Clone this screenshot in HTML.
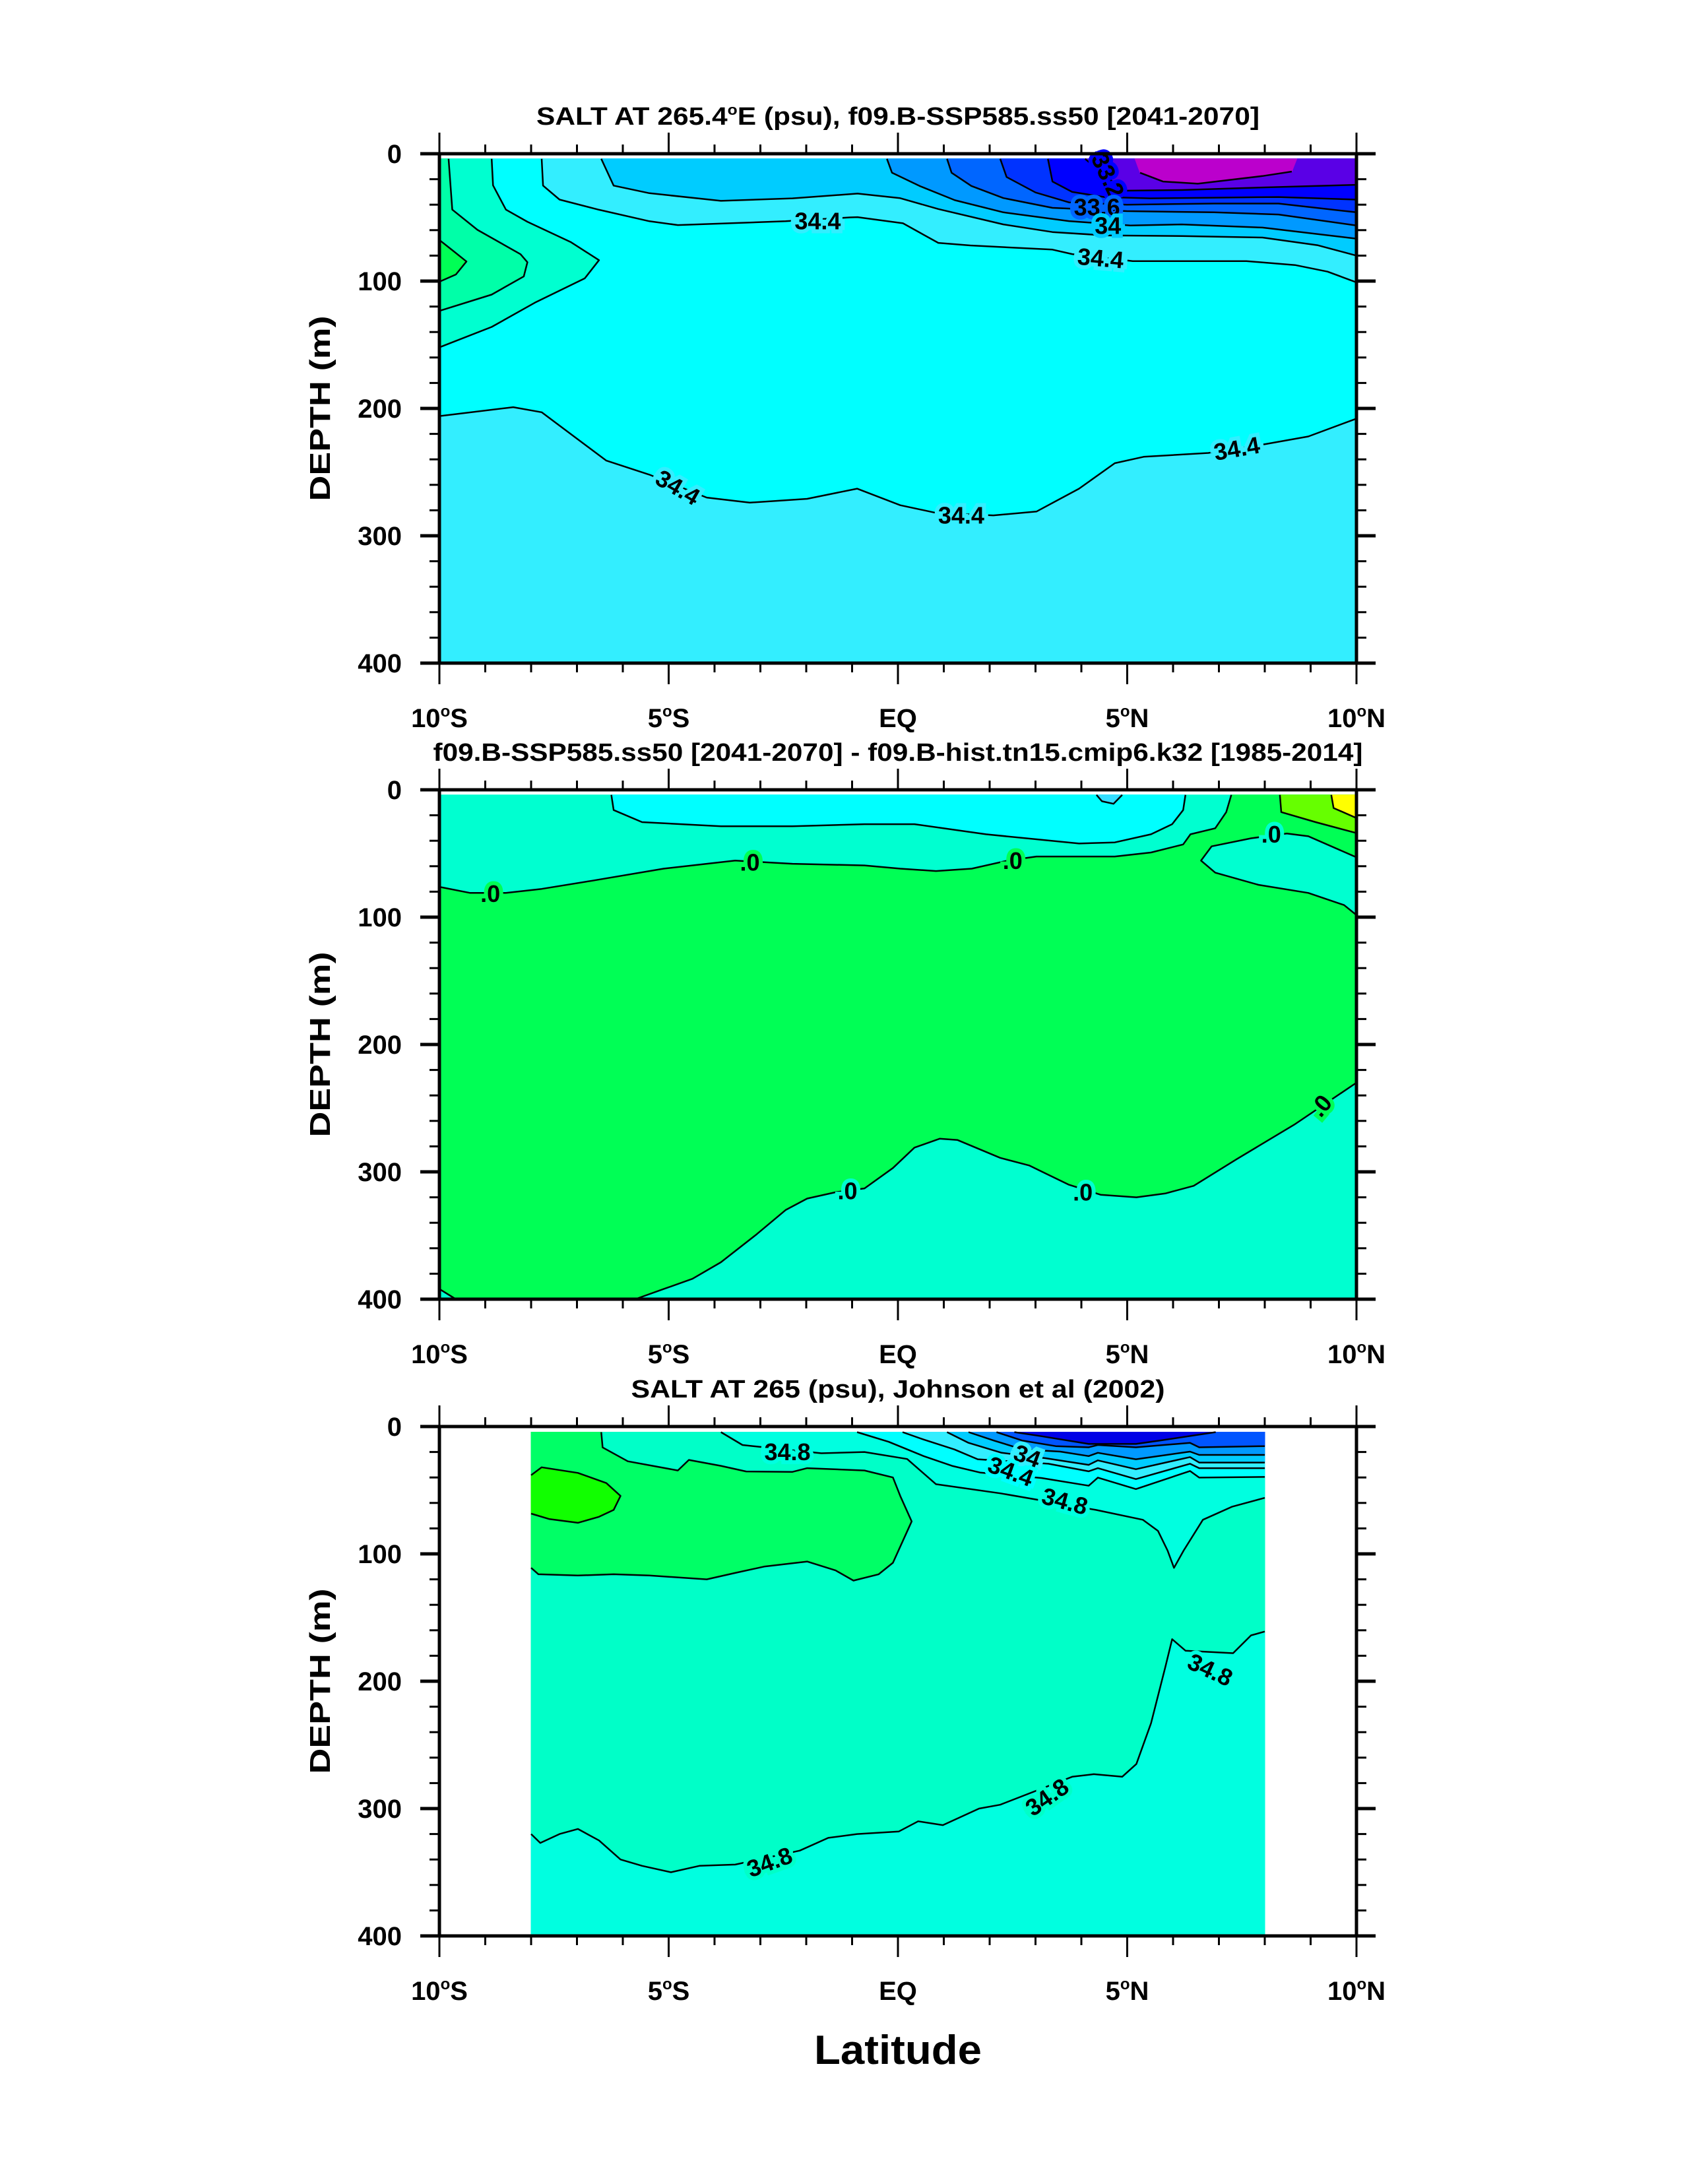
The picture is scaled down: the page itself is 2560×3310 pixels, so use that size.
<!DOCTYPE html>
<html>
<head>
<meta charset="utf-8">
<style>
html,body{margin:0;padding:0;background:#fff;}
svg{display:block;font-family:"Liberation Sans",Arial,sans-serif;}
</style>
</head>
<body>
<svg id="chart" xmlns="http://www.w3.org/2000/svg" width="2560" height="3310" viewBox="0 0 2560 3310">
<rect x="0" y="0" width="2560" height="3310" fill="#fff"/>
</svg>
<script>
// ---------- Panel 1 data (lat, depth m) ----------
const p1_low344_lat=[-10,-8.39,-7.77,-6.36,-5.42,-4.17,-3.23,-1.98,-0.89,0.05,0.83,2.08,3.02,3.95,4.73,5.36,6.77,8.02,8.95,10];
const p1_low344_dep=[206,199,203,241,252,270,274,271,263,276,282,284,281,263,243,238,235,228,222,208];
const p1_band1_lat=[-8.86,-8.83,-8.55,-8.08,-7.14,-6.52,-6.83,-7.92,-8.86,-10];
const p1_band1_dep=[4,24.8,43.9,53.4,69.3,83.6,97.9,117,136,152];
const p1_band2_lat=[-9.8,-9.72,-9.17,-8.23,-8.08,-8.16,-8.86,-10];
const p1_band2_dep=[4,43.9,59.8,78.9,85.2,96.3,110.6,123.4];
const p1_core_lat=[-10,-9.72,-9.41,-9.64,-10];
const p1_core_dep=[67.7,75.7,84.6,94.8,100.5];
const p1_up344_lat=[-7.77,-7.74,-7.38,-6.52,-5.42,-4.8,-2.45,-1.05,-0.88,0.11,0.88,1.58,3.37,3.8,5.12,7.6,8.66,9.37,10];
const p1_up344_dep=[4,25,36,44,53,56,53,50,49.8,54.6,70,72,75.3,78.8,84.3,84.3,87.4,92.6,101];
const p1_ca_lat=[-6.47,-6.2,-5.42,-3.86,-2.3,-0.88,0.04,0.88,2.3,3.37,4.5,6.19,7.95,9.16,10];
const p1_ca_dep=[4,25,31,37,35,31.3,34.8,43.4,55.5,61.5,64.1,64.6,65.8,71.9,80];
const p1_cb_lat=[-0.24,-0.13,0.47,1.24,2.3,3.73,5.07,6.19,7.95,10];
const p1_cb_dep=[4,14.9,25.3,36.5,46,52.9,56.3,55.5,58,66.7];
const p1_cc_lat=[1.07,1.17,1.6,2.3,3.37,4.99,6.89,8.3,10];
const p1_cc_dep=[4,14.9,25.3,34.8,42.5,45.1,46,47.7,56.3];
const p1_cd_lat=[2.23,2.37,3.0,3.73,4.99,6.89,8.3,10];
const p1_cd_dep=[4,18.3,30.4,38.2,40,39.1,39.1,46];
const p1_ce_lat=[3.27,3.37,3.8,4.5,5.5,6.89,8.3,10];
const p1_ce_dep=[4,21.8,30,34,35,34.5,34,36];
const p1_cf_lat=[4.08,4.5,4.92,6.19,7.95,10];
const p1_cf_dep=[4,16.6,29,28.5,26.5,24.4];
const p1_mag_lat=[5.17,5.28,5.78,6.54,7.95,8.59,8.7];
const p1_mag_dep=[4,14.9,21.8,23.5,17.5,14,4];
const p1_labels=['34.4','34.4','33.2','33.6','34','34.4','34.4','34.4'];
const p1_label_lat=[-1.75,4.42,4.58,4.34,4.58,-4.8,1.38,7.39];
const p1_label_dep=[52.8,82,17,42,56.6,262,284,231.5];

// ---------- Panel 2 data ----------
const p2_up_lat=[-10,-9.33,-8.55,-7.77,-6.67,-5.11,-3.55,-2.3,-0.73,0.05,0.83,1.61,2.39,3.02,4.73,5.52,6.22,6.38,6.92,7.16,7.27];
const p2_up_dep=[76.2,81,81,77.8,71.4,61.9,55.6,58.1,59.4,61.9,63.8,61.9,55.6,52.4,52.4,49.2,42.9,34.9,30.2,17.5,4];
const p2_low_lat=[-5.73,-5.11,-4.48,-3.86,-3.08,-2.45,-1.98,-1.36,-0.73,-0.11,0.36,0.91,1.3,2.23,2.86,3.72,4.42,5.2,5.83,6.45,7.39,8.64,10];
const p2_low_dep=[400,392,384,371,349,330,321,316,313,297,281,274,275,289,295,310,318,320,317,311,290,263,230];
const p2_corner_lat=[-10,-9.64];
const p2_corner_dep=[392,400];
const p2_pocket_lat=[10,8.95,8.48,7.7,6.84,6.61,6.92,7.86,8.95,9.73,10];
const p2_pocket_dep=[53,36.5,34.3,38.1,44.4,55.6,65.1,74.6,81,90.5,98.4];
const p2_cyan_lat=[-6.25,-6.2,-5.58,-3.86,-2.3,-0.73,0.36,1.92,3.95,4.73,5.52,5.98,6.22,6.27];
const p2_cyan_dep=[4,15.9,25.4,28.6,28.6,27,27,34.9,42.2,41.3,34.9,27,15.9,4];
const p2_notch_lat=[4.33,4.45,4.7,4.89];
const p2_notch_dep=[4,9,11,4];
const p2_lime_lat=[8.33,8.36,9.11,10];
const p2_lime_dep=[4,17.5,25.4,34];
const p2_yel_lat=[9.45,9.5,10];
const p2_yel_dep=[4,14.3,22.2];
const p2_labels=['.0','.0','.0','.0','.0','.0','.0'];
const p2_label_lat=[-8.89,-3.23,2.5,8.14,9.22,-1.1,4.03];
const p2_label_dep=[81.6,57,55.6,35,248,315,316];

// ---------- Panel 3 data ----------
const p3_low348_lat=[-8,-7.8,-7.38,-6.98,-6.52,-6.05,-5.58,-4.95,-4.33,-3.55,-2.14,-1.52,-0.89,0.02,0.44,0.98,1.77,2.23,3.8,4.27,4.89,5.2,5.52,5.83,5.98,6.27,7.31,7.7,8];
const p3_low348_dep=[320,327,320,316,325,340,345,350,345,344,333,323,320,318,310,313,300,297,275,273,275,265,233,189,167,176,178,164,161];
const p3_green_lat=[-8,-7.84,-6.98,-6.2,-5.42,-4.17,-3.55,-2.92,-1.98,-1.36,-0.97,-0.42,-0.11,0.3,0.05,-0.11,-0.73,-1.98,-2.3,-3.31,-3.86,-4.56,-4.8,-5.89,-6.44,-6.47];
const p3_green_dep=[111,116,117,116,117,120,115,110,106,113,121,116,107,74.5,54.5,40,34.5,32.7,35.6,35.3,30.9,26.2,34.5,27.3,16.4,4.4];
const p3_core_lat=[-8,-7.77,-6.98,-6.36,-6.05,-6.2,-6.52,-6.98,-7.6,-8];
const p3_core_dep=[38.2,32,36.4,44.4,54.5,65.5,70.9,75.6,72.7,68.4];
const p3_up348_lat=[-3.86,-3.39,-1.67,-0.73,0.2,0.83,2.24,4.32,5.34,5.67,5.88,6.02,6.23,6.65,7.29,8];
const p3_up348_dep=[4.4,14.5,21,20,25.5,45.3,52.5,65.5,73.2,81.9,97.4,111,97.4,73.2,62.9,56];
const p3_m1_lat=[-0.89,-0.2,0.56,1.18,1.79,3.13,4.16,4.36,5.19,6.37,6.57,8];
const p3_m1_dep=[4.4,12,23.2,30.9,36.1,40.4,46.5,40.1,49.1,34.9,40.1,39.6];
const p3_m2_lat=[0.1,0.56,1.23,1.74,3.28,4.16,4.36,5.19,6.37,6.57,8];
const p3_m2_dep=[4.4,10.2,18,25.7,29.2,35.2,32.7,41.3,29.2,32.7,32.7];
const p3_m3_lat=[1.07,1.54,2.26,3.23,4.16,4.36,5.19,6.37,6.57,8];
const p3_m3_dep=[4.4,12.8,20.6,24.9,30.1,26.6,33.5,24,28.3,28.3];
const p3_m4_lat=[1.54,2.1,2.72,3.54,4.16,4.36,5.19,6.37,6.57,8];
const p3_m4_dep=[4.4,11.1,18,19.7,23.2,20.6,25.7,19.7,22.3,22.3];
const p3_m5_lat=[2.15,2.72,3.44,4.16,4.36,5.19,6.37,6.57,8];
const p3_m5_dep=[4.4,11.1,15.4,16.3,14.5,16.3,12.8,16.3,15.4];
const p3_m6_lat=[2.54,3.13,4.16,5.19,5.7,6.93];
const p3_m6_dep=[4.4,7.6,13.7,13.7,11.1,4.4];
const p3_labels=['34.8','34','34.4','34.8','34.8','34.8','34.8'];
const p3_label_lat=[-2.41,2.82,2.46,3.64,6.81,3.25,-2.8];
const p3_label_dep=[20,23.2,35.2,58.6,191,291,342];

// ---------- Axis ticks ----------
const lat_ticks=[-10,-5,0,5,10];
const lat_tick_labels=[['10','S'],['5','S'],['EQ',''],['5','N'],['10','N']];
const depth_ticks=[0,100,200,300,400];
const titles=['SALT AT 265.4|E (psu), f09.B-SSP585.ss50 [2041-2070]','f09.B-SSP585.ss50 [2041-2070] - f09.B-hist.tn15.cmip6.k32 [1985-2014]','SALT AT 265 (psu), Johnson et al (2002)'];

const svg=document.getElementById('chart');
const NS='http://www.w3.org/2000/svg';
const TOPS=[233,1197,2162];
const AX_L=666, AX_R=2056, AX_H=772;
function X(lat){return AX_L+(lat+10)/20*(AX_R-AX_L);}
function Y(p,d){return TOPS[p]+d/400*AX_H;}
function pts(p,la,de){return la.map((v,i)=>X(v).toFixed(1)+','+Y(p,de[i]).toFixed(1)).join(' ');}
function el(tag,attrs,parent){const e=document.createElementNS(NS,tag);for(const k in attrs)e.setAttribute(k,attrs[k]);(parent||svg).appendChild(e);return e;}
function area(p,la,de,color,name){
  const e=el('polygon',{points:pts(p,la,de),fill:color,stroke:color,'stroke-width':1});
  
  
}
function line(p,la,de,name){
  const e=el('polyline',{points:pts(p,la,de),fill:'none',stroke:'#000','stroke-width':2.5,'stroke-linejoin':'round'});
  
  
}
function clabel(p,txt,lat,d,rot,bg){
  const x=X(lat),y=Y(p,d);
  const t=el('text',{x:x,y:y,'text-anchor':'middle','dominant-baseline':'central','font-size':36,'font-weight':'bold',fill:'#000',stroke:bg,'stroke-width':12,'paint-order':'stroke',transform:'rotate('+rot+' '+x+' '+y+')'});
  t.textContent=txt;
  
  
}
function rev(a){return a.slice().reverse();}

// ===== Panel 1 =====
area(0,[-10,10,10,-10],[4,4,400,400],'#33EEFF','p1-deep-fill');
area(0,p1_low344_lat.concat([10,-10]),p1_low344_dep.concat([4,4]),'#00FFFF','p1-cyan-fill');
area(0,p1_band1_lat.concat([-10]),p1_band1_dep.concat([4]),'#00FFD0','p1-aqua-fill');
area(0,p1_band2_lat.concat([-10]),p1_band2_dep.concat([4]),'#00FFA8','p1-seagreen-fill');
area(0,p1_core_lat,p1_core_dep,'#00FF55','p1-green-core');
area(0,p1_up344_lat.concat([10]),p1_up344_dep.concat([4]),'#33EEFF','p1-upper-light-fill');
area(0,p1_ca_lat.concat([10]),p1_ca_dep.concat([4]),'#00CCFF','p1-band-a');
area(0,p1_cb_lat.concat([10]),p1_cb_dep.concat([4]),'#0099FF','p1-band-b');
area(0,p1_cc_lat.concat([10]),p1_cc_dep.concat([4]),'#0066FF','p1-band-c');
area(0,p1_cd_lat.concat([10]),p1_cd_dep.concat([4]),'#0033FF','p1-band-d');
area(0,p1_ce_lat.concat([10]),p1_ce_dep.concat([4]),'#0000FF','p1-band-e');
area(0,p1_cf_lat.concat([10]),p1_cf_dep.concat([4]),'#5A00E6','p1-band-f');
area(0,p1_mag_lat,p1_mag_dep,'#BB00CC','p1-magenta-core');
line(0,p1_low344_lat,p1_low344_dep,'p1-contour-34.4-deep');
line(0,p1_band1_lat,p1_band1_dep,'p1-contour-west-1');
line(0,p1_band2_lat,p1_band2_dep,'p1-contour-west-2');
line(0,p1_core_lat,p1_core_dep,'p1-contour-west-core');
line(0,p1_up344_lat,p1_up344_dep,'p1-contour-34.4-upper');
line(0,p1_ca_lat,p1_ca_dep,'p1-contour-a');
line(0,p1_cb_lat,p1_cb_dep,'p1-contour-b');
line(0,p1_cc_lat,p1_cc_dep,'p1-contour-c');
line(0,p1_cd_lat,p1_cd_dep,'p1-contour-d');
line(0,p1_ce_lat,p1_ce_dep,'p1-contour-e');
line(0,p1_cf_lat,p1_cf_dep,'p1-contour-33.2');
line(0,p1_mag_lat.slice(1,6),p1_mag_dep.slice(1,6),'p1-contour-magenta');
const p1_rot=[0,5,65,0,0,30,0,-10];
const p1_bg=['#33EEFF','#33EEFF','#0000FF','#0066FF','#00CCFF','#33EEFF','#33EEFF','#33EEFF'];
p1_labels.forEach((t,i)=>clabel(0,t,p1_label_lat[i],p1_label_dep[i],p1_rot[i],p1_bg[i]));

// ===== Panel 2 =====
area(1,[-10,10,10,-10],[4,4,400,400],'#00FFD0','p2-aqua-fill');
area(1,p2_up_lat.concat([10]).concat(rev(p2_low_lat)).concat([-9.64,-10]),p2_up_dep.concat([4]).concat(rev(p2_low_dep)).concat([400,392]),'#00FF55','p2-green-fill');
area(1,p2_pocket_lat,p2_pocket_dep,'#00FFD0','p2-aqua-pocket');
area(1,p2_cyan_lat,p2_cyan_dep,'#00FFFF','p2-cyan-fill');
area(1,p2_notch_lat,p2_notch_dep,'#33DDFF','p2-notch-fill');
area(1,p2_lime_lat.concat([10]),p2_lime_dep.concat([4]),'#66FF00','p2-lime-fill');
area(1,p2_yel_lat.concat([10]),p2_yel_dep.concat([4]),'#FFFF00','p2-yellow-fill');
line(1,p2_up_lat,p2_up_dep,'p2-contour-zero-upper');
line(1,p2_low_lat,p2_low_dep,'p2-contour-zero-lower');
line(1,p2_corner_lat,p2_corner_dep,'p2-contour-corner');
line(1,p2_pocket_lat,p2_pocket_dep,'p2-contour-pocket');
line(1,p2_cyan_lat,p2_cyan_dep,'p2-contour-cyan');
line(1,p2_notch_lat,p2_notch_dep,'p2-contour-notch');
line(1,p2_lime_lat,p2_lime_dep,'p2-contour-lime');
line(1,p2_yel_lat,p2_yel_dep,'p2-contour-yellow');
const p2_rot=[0,0,0,0,-50,0,0];
const p2_bg=['#00FF55','#00FF55','#00FF55','#00FFD0','#00FF55','#00FFD0','#00FFD0'];
p2_labels.forEach((t,i)=>clabel(1,t,p2_label_lat[i],p2_label_dep[i],p2_rot[i],p2_bg[i]));

// ===== Panel 3 =====
area(2,[-8,8,8,-8],[4.4,4.4,400,400],'#00FFE0','p3-deep-fill');
area(2,p3_low348_lat.concat([8,-8]),p3_low348_dep.concat([4.4,4.4]),'#00FFC8','p3-mid-fill');
area(2,p3_green_lat.concat([-8]),p3_green_dep.concat([4.4]),'#00FF66','p3-green-fill');
area(2,p3_core_lat,p3_core_dep,'#11FF00','p3-green-core');
area(2,p3_up348_lat.concat([8]),p3_up348_dep.concat([4.4]),'#00FFE0','p3-upper-fill');
area(2,p3_m1_lat.concat([8]),p3_m1_dep.concat([4.4]),'#00FFFF','p3-band-1');
area(2,p3_m2_lat.concat([8]),p3_m2_dep.concat([4.4]),'#33EEFF','p3-band-2');
area(2,p3_m3_lat.concat([8]),p3_m3_dep.concat([4.4]),'#00CCFF','p3-band-3');
area(2,p3_m4_lat.concat([8]),p3_m4_dep.concat([4.4]),'#0099FF','p3-band-4');
area(2,p3_m5_lat.concat([8]),p3_m5_dep.concat([4.4]),'#0055FF','p3-band-5');
area(2,p3_m6_lat,p3_m6_dep,'#0000E6','p3-band-6');
line(2,p3_low348_lat,p3_low348_dep,'p3-contour-34.8-deep');
line(2,p3_green_lat,p3_green_dep,'p3-contour-green');
line(2,p3_core_lat,p3_core_dep,'p3-contour-core');
line(2,p3_up348_lat,p3_up348_dep,'p3-contour-34.8-upper');
line(2,p3_m1_lat,p3_m1_dep,'p3-contour-m1');
line(2,p3_m2_lat,p3_m2_dep,'p3-contour-m2');
line(2,p3_m3_lat,p3_m3_dep,'p3-contour-m3');
line(2,p3_m4_lat,p3_m4_dep,'p3-contour-m4');
line(2,p3_m5_lat,p3_m5_dep,'p3-contour-m5');
line(2,p3_m6_lat,p3_m6_dep,'p3-contour-m6');
const p3_rot=[0,20,20,15,25,-35,-20];
const p3_bg=['#00FFE0','#33EEFF','#00FFFF','#00FFE0','#00FFE0','#00FFC8','#00FFC8'];
p3_labels.forEach((t,i)=>clabel(2,t,p3_label_lat[i],p3_label_dep[i],p3_rot[i],p3_bg[i]));

// ===== Axes =====
const titleLens=[1096,1409,809];
for(let p=0;p<3;p++){
  const top=TOPS[p], bot=top+AX_H;
  const g=el('g',{});
  
  
  const fr=el('rect',{x:AX_L,y:top,width:AX_R-AX_L,height:AX_H,fill:'none',stroke:'#000','stroke-width':5},g);
  
  
  for(let lat=-10;lat<=10;lat++){
    const len=(lat%5===0)?32:14, x=X(lat);
    const t1=el('line',{x1:x,x2:x,y1:top,y2:top-len,stroke:'#000','stroke-width':3},g);
    
    
    const t2=el('line',{x1:x,x2:x,y1:bot,y2:bot+len,stroke:'#000','stroke-width':3},g);
    
    
  }
  for(let d=0;d<=400;d+=20){
    const len=(d%100===0)?29:15, y=Y(p,d), w=(d%100===0)?5:3;
    const t1=el('line',{x1:AX_L,x2:AX_L-len,y1:y,y2:y,stroke:'#000','stroke-width':w},g);
    
    
    const t2=el('line',{x1:AX_R,x2:AX_R+len,y1:y,y2:y,stroke:'#000','stroke-width':w},g);
    
    
  }
  lat_ticks.forEach((lat,i)=>{
    const t=el('text',{x:X(lat),y:bot+97,'text-anchor':'middle','font-size':40,'font-weight':'bold'},g);
    const lb=lat_tick_labels[i];
    if(lb[1]===''){t.textContent=lb[0];}
    else{
      const a=el('tspan',{},t);a.textContent=lb[0];
      const b=el('tspan',{'font-size':24,dy:-16},t);b.textContent='o';
      const c=el('tspan',{dy:16},t);c.textContent=lb[1];
    }
    
    
  });
  depth_ticks.forEach(d=>{
    const t=el('text',{x:609,y:Y(p,d)+14,'text-anchor':'end','font-size':40,'font-weight':'bold'},g);
    t.textContent=String(d);
    
    
  });
  const yl=el('text',{x:0,y:0,'text-anchor':'middle','font-size':44,'font-weight':'bold',textLength:281,lengthAdjust:'spacingAndGlyphs',transform:'translate(500 '+(top+386)+') rotate(-90)'},g);
  yl.textContent='DEPTH (m)';
  
  
  const tt=el('text',{x:1361,y:top-44,'text-anchor':'middle','font-size':38,'font-weight':'bold',textLength:titleLens[p],lengthAdjust:'spacingAndGlyphs'},g);
  const parts=titles[p].split('|');
  const s1=el('tspan',{},tt);s1.textContent=parts[0];
  if(parts.length>1){
    const s2=el('tspan',{'font-size':22,dy:-15},tt);s2.textContent='o';
    const s3=el('tspan',{dy:15},tt);s3.textContent=parts[1];
  }
  
  
}
const xt=el('text',{x:1361,y:3128,'text-anchor':'middle','font-size':62,'font-weight':'bold',textLength:254,lengthAdjust:'spacingAndGlyphs'});
xt.textContent='Latitude';


</script>
</body>
</html>
